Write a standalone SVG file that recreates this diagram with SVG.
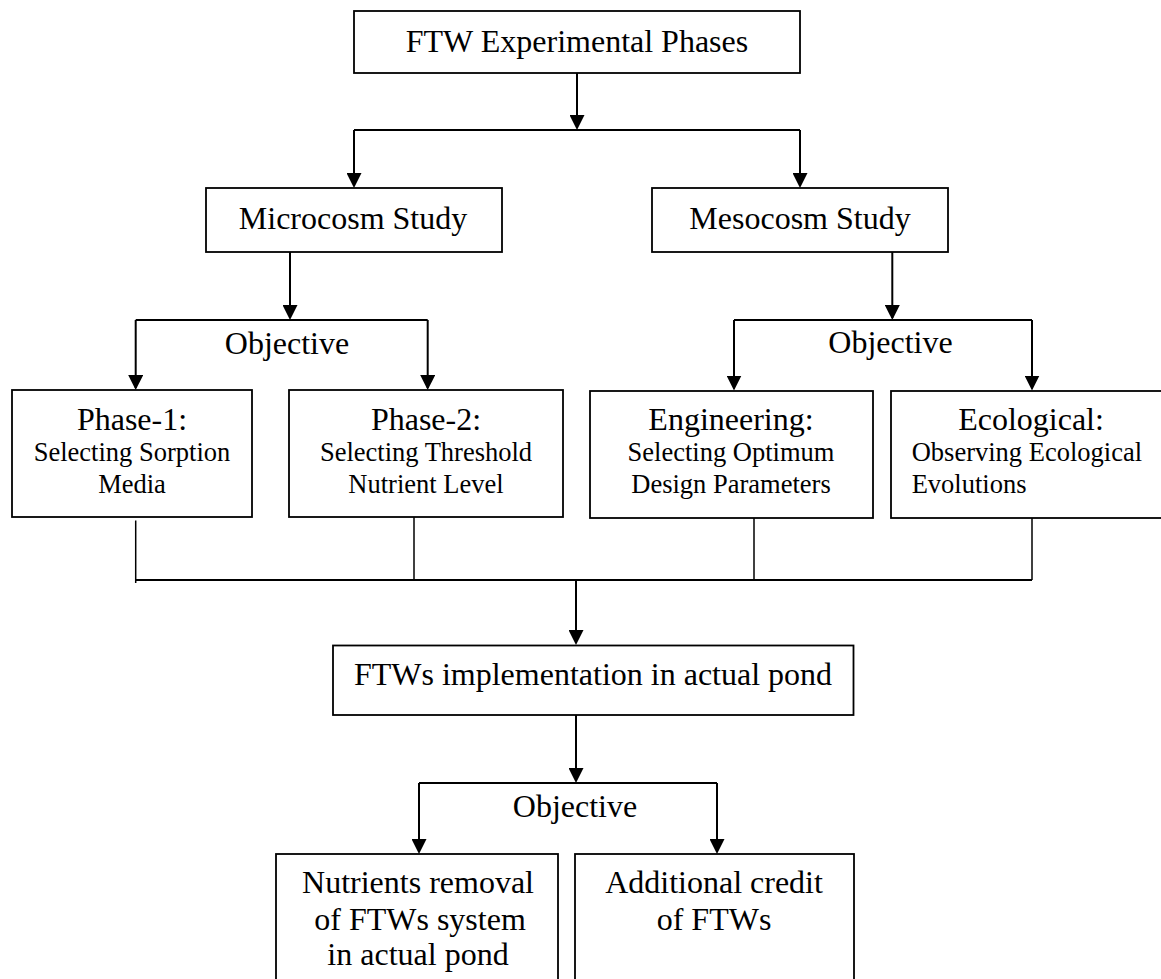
<svg xmlns="http://www.w3.org/2000/svg" width="1161" height="979" viewBox="0 0 1161 979">
<style>
  .box { fill: #ffffff; stroke: #000000; stroke-width: 1.8; }
  .t { font-family: "Liberation Serif", "Times New Roman", serif; font-size: 32px; fill: #000000; text-anchor: middle; }
  .s { font-family: "Liberation Serif", "Times New Roman", serif; font-size: 26.5px; fill: #000000; text-anchor: middle; }
  .l { text-anchor: start; }
  .arr { fill: none; stroke: #000000; stroke-width: 2; marker-end: url(#ah); }
  .ln { fill: none; stroke: #000000; stroke-width: 2; }
  .thin { fill: none; stroke: #000000; stroke-width: 1.5; }
</style>
<defs>
  <marker id="ah" viewBox="0 0 15 15" refX="13" refY="7.5" markerWidth="15" markerHeight="15" markerUnits="userSpaceOnUse" orient="auto">
    <path d="M0,0 L15,7.5 L0,15 z" fill="#000000"/>
  </marker>
</defs>
<rect x="0" y="0" width="1161" height="979" fill="#ffffff"/>

<g id="connectors">
  <path class="arr" d="M577,73 V128"/>
  <path class="ln" d="M354,130 H800"/>
  <path class="arr" d="M354,130 V186"/>
  <path class="arr" d="M800,130 V186"/>

  <path class="arr" d="M290,252 V318"/>
  <path class="ln" d="M135.7,320 H427.7"/>
  <path class="arr" d="M135.7,320 V388"/>
  <path class="arr" d="M427.7,320 V388"/>

  <path class="arr" d="M892.3,252 V318"/>
  <path class="ln" d="M734,320 H1032"/>
  <path class="arr" d="M734,320 V388.5"/>
  <path class="arr" d="M1032,320 V388.5"/>

  <path class="thin" d="M135.7,520.5 V583"/>
  <path class="thin" d="M414,517 V580"/>
  <path class="thin" d="M754,518 V580"/>
  <path class="thin" d="M1032,518 V580"/>
  <path class="ln" d="M135.7,580 H1032"/>

  <path class="arr" d="M576,580 V643"/>

  <path class="arr" d="M576,715 V781"/>
  <path class="ln" d="M419,783 H717"/>
  <path class="arr" d="M419,783 V852"/>
  <path class="arr" d="M717,783 V852"/>
</g>

<g id="title">
  <rect class="box" x="354" y="11" width="446" height="62"/>
  <text class="t" x="577" y="52">FTW Experimental Phases</text>
</g>

<g id="microcosm">
  <rect class="box" x="206" y="188" width="296" height="64"/>
  <text class="t" x="353" y="229">Microcosm Study</text>
</g>

<g id="mesocosm">
  <rect class="box" x="652" y="188" width="296" height="64"/>
  <text class="t" x="800" y="229">Mesocosm Study</text>
</g>

<g id="objective-micro">
  <text class="t" x="287" y="354">Objective</text>
</g>

<g id="objective-meso">
  <text class="t" x="890.5" y="353">Objective</text>
</g>

<g id="phase1">
  <rect class="box" x="12" y="390" width="240" height="127"/>
  <text class="t" x="132" y="430">Phase-1:</text>
  <text class="s" x="132" y="460.7">Selecting Sorption</text>
  <text class="s" x="132" y="492.7">Media</text>
</g>

<g id="phase2">
  <rect class="box" x="289" y="390" width="274" height="127"/>
  <text class="t" x="426" y="430">Phase-2:</text>
  <text class="s" x="426" y="460.7">Selecting Threshold</text>
  <text class="s" x="426" y="492.7">Nutrient Level</text>
</g>

<g id="engineering">
  <rect class="box" x="590" y="391" width="283" height="127"/>
  <text class="t" x="731" y="430">Engineering:</text>
  <text class="s" x="731" y="460.7">Selecting Optimum</text>
  <text class="s" x="731" y="492.7">Design Parameters</text>
</g>

<g id="ecological">
  <rect class="box" x="891" y="391" width="275" height="127"/>
  <text class="t" x="1031" y="430">Ecological:</text>
  <text class="s l" x="911.7" y="460.7">Observing Ecological</text>
  <text class="s l" x="911.7" y="492.7">Evolutions</text>
</g>

<g id="implementation">
  <rect class="box" x="333" y="645.5" width="520.5" height="69.5"/>
  <text class="t" x="593" y="685">FTWs implementation in actual pond</text>
</g>

<g id="objective-pond">
  <text class="t" x="575" y="816.7">Objective</text>
</g>

<g id="nutrients">
  <rect class="box" x="276" y="854" width="282" height="140"/>
  <text class="t" x="418" y="893">Nutrients removal</text>
  <text class="t" x="420" y="930">of FTWs system</text>
  <text class="t" x="418" y="965">in actual pond</text>
</g>

<g id="credit">
  <rect class="box" x="575" y="854" width="279" height="140"/>
  <text class="t" x="714" y="893">Additional credit</text>
  <text class="t" x="714" y="930">of FTWs</text>
</g>
</svg>
